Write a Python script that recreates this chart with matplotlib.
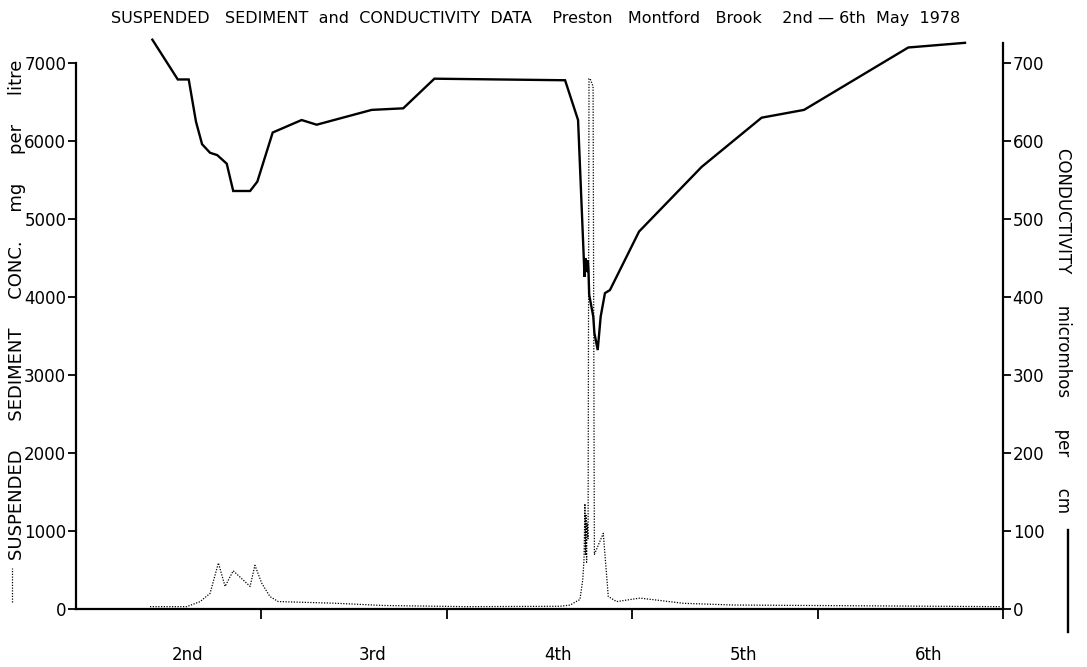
import matplotlib
matplotlib.use('Agg')
import matplotlib.pyplot as plt
from matplotlib.lines import Line2D
import numpy as np

plt.rcParams['font.family'] = ['DejaVu Sans']

# ---- data (x in days from start of axis; 1..5 = midnight ticks) ----
cond_x = [0.412, 0.549, 0.608, 0.647, 0.680, 0.723, 0.762, 0.813, 0.848, 0.939,
          0.978, 1.061, 1.217, 1.298, 1.595, 1.765, 1.933, 2.638, 2.708, 2.743,
          2.747, 2.755, 2.761, 2.764, 2.768, 2.790, 2.796, 2.814, 2.830, 2.853,
          2.880, 3.037, 3.375, 3.698, 3.927, 4.489, 4.795]
cond_y = [730, 679, 679, 625, 596, 585, 582, 571, 536, 536,
          548, 611, 627, 621, 640, 642, 680, 678, 627, 426,
          450, 432, 447, 435, 403, 375, 354, 332, 375, 405,
          409, 484, 567, 630, 640, 720, 726]

sed_x = [0.399, 0.597, 0.669, 0.723, 0.768, 0.804, 0.848, 0.939, 0.965, 1.002,
         1.046, 1.091, 1.388, 1.657, 2.107, 2.611, 2.665, 2.708, 2.718, 2.733,
         2.740, 2.745, 2.748, 2.751, 2.754, 2.756, 2.762, 2.767, 2.773, 2.789,
         2.796, 2.844, 2.871, 2.916, 3.042, 3.276, 3.545, 4.444, 4.984]
sed_y = [30, 30, 94, 200, 590, 290, 490, 290, 560, 330,
         160, 95, 75, 45, 30, 35, 50, 110, 120, 370,
         630, 1350, 700, 1200, 600, 1100, 900, 6800, 6800, 6700,
         700, 970, 160, 95, 140, 73, 51, 38, 30]

day_ticks = [1, 2, 3, 4, 5]
day_label_pos = [0.6, 1.6, 2.6, 3.6, 4.6]
day_labels = ['2nd', '3rd', '4th', '5th', '6th']
sed_ticks = [0, 1000, 2000, 3000, 4000, 5000, 6000, 7000]
cond_ticks = [0, 100, 200, 300, 400, 500, 600, 700]

title = ('SUSPENDED   SEDIMENT  and  CONDUCTIVITY  DATA    Preston   '
         'Montford   Brook    2nd \u2014 6th  May  1978')
left_label = 'SUSPENDED     SEDIMENT     CONC.     mg     per     litre'
right_label = 'CONDUCTIVITY      micromhos      per      cm'

# ---- figure ----
W, H = 1087, 667
fig = plt.figure(figsize=(W / 100, H / 100), dpi=100)
ax = fig.add_axes([76 / W, 58 / H, 927 / W, 581 / H])
ax.set_xlim(0, 5)
ax.set_ylim(0, 7450)
ax2 = ax.twinx()
ax2.set_ylim(0, 745)

ax.plot(sed_x, sed_y, color='black', lw=0.9, linestyle=(0, (1, 1.2)))
ax2.plot(cond_x, cond_y, color='black', lw=1.7, solid_joinstyle='miter')

for s in ['top', 'right']:
    ax.spines[s].set_visible(False)
for s in ['top', 'left', 'bottom']:
    ax2.spines[s].set_visible(False)
ax.spines['left'].set_bounds(0, 7000)
ax2.spines['right'].set_bounds(0, 726)
for sp in [ax.spines['left'], ax.spines['bottom'], ax2.spines['right']]:
    sp.set_linewidth(1.6)

ax.set_yticks(sed_ticks)
ax.set_yticklabels([str(v) for v in sed_ticks], fontsize=12)
ax.tick_params(axis='y', direction='out', length=6, width=1.3, pad=1)
ax2.set_yticks(cond_ticks)
ax2.set_yticklabels([str(v) for v in cond_ticks], fontsize=12)
ax2.tick_params(axis='y', direction='out', length=6, width=1.3, pad=1)

ax.set_xticks(day_ticks)
ax.set_xticklabels([''] * len(day_ticks))
ax.tick_params(axis='x', direction='out', length=7, width=1.3)

tr = matplotlib.transforms.blended_transform_factory(ax.transData, ax.transAxes)
for xp, lab in zip(day_label_pos, day_labels):
    ax.text(xp, -46 / 581, lab, transform=tr, ha='center', va='center', fontsize=12)

fig.text(536 / W, 1 - 18 / H, title, ha='center', va='center', fontsize=11.5)

fig.text(17 / W, 1 - 310 / H, left_label, rotation=90, ha='center', va='center', fontsize=13)
fig.add_artist(Line2D([12 / W, 12 / W], [1 - 602 / H, 1 - 568 / H], transform=fig.transFigure,
                      color='black', lw=0.9, linestyle=(0, (1, 1.2))))

fig.text(1063 / W, 1 - 148 / H, right_label, rotation=-90, ha='center', va='top', fontsize=12)
fig.add_artist(Line2D([1068 / W, 1068 / W], [1 - 632 / H, 1 - 530 / H], transform=fig.transFigure,
                      color='black', lw=1.7))

fig.savefig('out.png', dpi=100)
